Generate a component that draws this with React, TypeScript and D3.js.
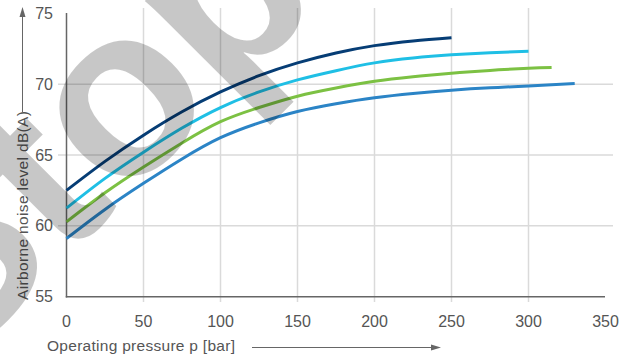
import React from "react";
import * as d3 from "d3";

const xTicks = [0, 50, 100, 150, 200, 250, 300, 350];
const yTicks = [55, 60, 65, 70, 75];

const navyP = [0, 25, 50, 75, 100, 125, 150, 175, 200, 225, 250];
const navyV = [62.5, 64.55, 66.4, 68.05, 69.45, 70.6, 71.5, 72.2, 72.72, 73.05, 73.27];
const cyanP = [0, 25, 50, 75, 100, 125, 150, 175, 200, 225, 250, 275, 300];
const cyanV = [61.25, 63.35, 65.2, 66.9, 68.35, 69.45, 70.3, 70.95, 71.5, 71.85, 72.07, 72.22, 72.32];
const greenP = [0, 25, 50, 75, 100, 125, 150, 175, 200, 225, 250, 275, 300, 315];
const greenV = [60.28, 62.33, 64.15, 65.85, 67.35, 68.35, 69.15, 69.73, 70.2, 70.52, 70.77, 70.97, 71.13, 71.18];
const blueP = [0, 25, 50, 75, 100, 125, 150, 175, 200, 225, 250, 275, 300, 330];
const blueV = [59.11, 61.16, 63.0, 64.72, 66.22, 67.27, 68.07, 68.62, 69.04, 69.34, 69.57, 69.74, 69.87, 70.05];

const series = [
  { p: blueP, v: blueV, color: "#2b84c6" },
  { p: greenP, v: greenV, color: "#7cc143" },
  { p: cyanP, v: cyanV, color: "#1fbfe5" },
  { p: navyP, v: navyV, color: "#063d75" },
];

const FONT = "'Liberation Sans', Arial, sans-serif";

export default function App() {
  const W = 624, H = 358;
  const x = d3.scaleLinear().domain([0, 350]).range([66.5, 605.5]);
  const y = d3.scaleLinear().domain([55, 75]).range([296.7, 13.3]);
  const line = d3
    .line<[number, number]>()
    .x((d) => x(d[0]))
    .y((d) => y(d[1]))
    .curve(d3.curveNatural);

  return (
    <svg
      width={W}
      height={H}
      style={{ position: "absolute", left: 0, top: 0 }}
      fontFamily={FONT}
    >
      <rect width={W} height={H} fill="#fff" />
      {/* grid */}
      {xTicks
        .filter((t) => t > 0 && t < 350)
        .map((t) => (
          <line key={"gx" + t} x1={x(t)} x2={x(t)} y1={8} y2={302} stroke="#dadada" strokeWidth={1.5} />
        ))}
      {yTicks
        .filter((t) => t > 55 && t < 75)
        .map((t) => (
          <line key={"gy" + t} x1={58} x2={613} y1={y(t)} y2={y(t)} stroke="#dadada" strokeWidth={1.5} />
        ))}
      {/* axes */}
      <line x1={x(0)} x2={x(0)} y1={13} y2={297.5} stroke="#666" strokeWidth={1.5} />
      <line x1={x(0) - 0.75} x2={605} y1={y(55)} y2={y(55)} stroke="#666" strokeWidth={1.5} />
      {/* tick labels */}
      {yTicks.map((t) => (
        <text key={"ty" + t} x={53} y={y(t) + 5.6} textAnchor="end" fontSize={16} fill="#555">
          {t}
        </text>
      ))}
      {xTicks.map((t) => (
        <text key={"tx" + t} x={x(t)} y={326.5} textAnchor="middle" fontSize={16} fill="#555">
          {t}
        </text>
      ))}
      {/* curves */}
      {series.map((s, i) => (
        <path
          key={i}
          d={line(s.p.map((p, j) => [p, s.v[j]] as [number, number])) || ""}
          fill="none"
          stroke={s.color}
          strokeWidth={3}
        />
      ))}
      {/* axis titles */}
      <text x={47} y={350.5} fontSize={15.5} fill="#555" textLength={188} lengthAdjust="spacing">
        Operating pressure p [bar]
      </text>
      <line x1={252} x2={432} y1={347.5} y2={347.5} stroke="#666" strokeWidth={1} />
      <path d="M 441 347.5 L 431 344.5 L 431 350.5 Z" fill="#666" />
      <text transform="translate(28,300) rotate(-90)" fontSize={15.5} fill="#555" textLength={189} lengthAdjust="spacing">
        Airborne noise level dB(A)
      </text>
      <line x1={22.5} x2={22.5} y1={112} y2={16} stroke="#666" strokeWidth={1} />
      <path d="M 22.5 7 L 19.5 17 L 25.5 17 Z" fill="#666" />
      {/* watermark */}
      <text
        transform="translate(-50,375) rotate(-45)"
        fontSize={240}
        fontWeight="bold"
        fill="#000"
        fillOpacity={0.22}
        fontFamily={FONT}
      >
        Stop
      </text>
    </svg>
  );
}
